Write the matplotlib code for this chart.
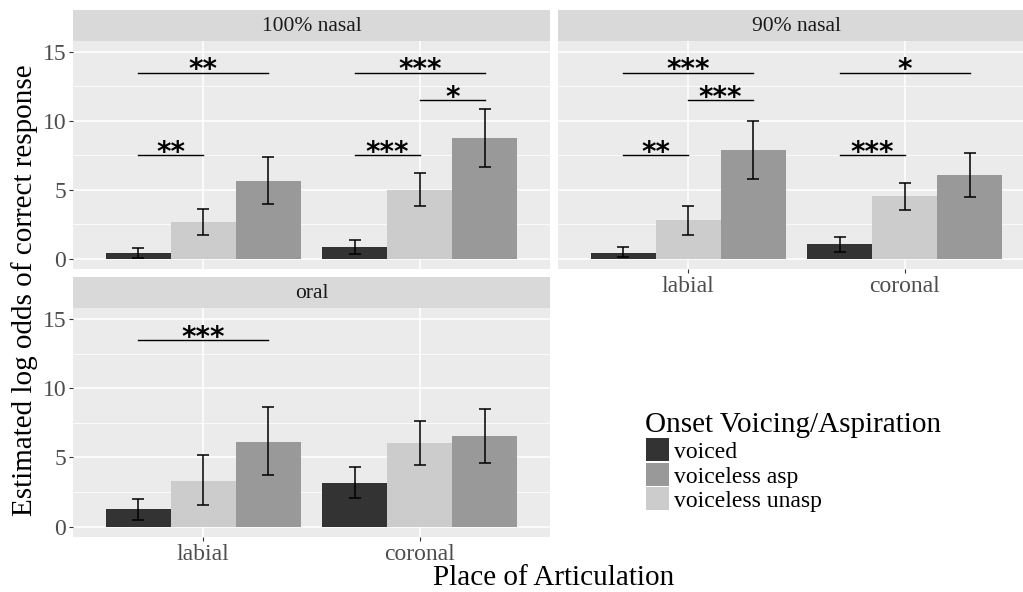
import numpy as np
import matplotlib
matplotlib.use('Agg')
import matplotlib.pyplot as plt
from matplotlib.patches import Rectangle

# categories
places = ['labial', 'coronal']
bar_groups = ['voiced', 'voiceless unasp', 'voiceless asp']      # order of bars inside a place
legend_groups = ['voiced', 'voiceless asp', 'voiceless unasp']   # order in the legend
fills = {'voiced': '#333333', 'voiceless asp': '#999999', 'voiceless unasp': '#CCCCCC'}

# estimates / error bar ends, rows follow bar_groups, columns follow places
nasal100_est = [[0.39, 0.82], [2.63, 5.00], [5.63, 8.77]]
nasal100_lo = [[0.02, 0.36], [1.69, 3.84], [3.96, 6.67]]
nasal100_hi = [[0.75, 1.35], [3.62, 6.18], [7.39, 10.89]]

nasal90_est = [[0.43, 1.04], [2.78, 4.52], [7.85, 6.09]]
nasal90_lo = [[0.10, 0.46], [1.71, 3.55], [5.77, 4.47]]
nasal90_hi = [[0.85, 1.57], [3.84, 5.51], [9.98, 7.66]]

oral_est = [[1.25, 3.18], [3.33, 6.05], [6.12, 6.56]]
oral_lo = [[0.51, 2.07], [1.54, 4.46], [3.71, 4.61]]
oral_hi = [[1.98, 4.27], [5.14, 7.64], [8.61, 8.49]]

# significance brackets: (place, bar a, bar b, height, label)
nasal100_sig = [(0, 0, 2, 13.5, '**'), (0, 0, 1, 7.5, '**'),
                (1, 0, 2, 13.5, '***'), (1, 1, 2, 11.5, '*'), (1, 0, 1, 7.5, '***')]
nasal90_sig = [(0, 0, 2, 13.5, '***'), (0, 1, 2, 11.5, '***'), (0, 0, 1, 7.5, '**'),
               (1, 0, 2, 13.5, '*'), (1, 0, 1, 7.5, '***')]
oral_sig = [(0, 0, 2, 13.5, '***')]

panels = [
    ('100% nasal', nasal100_est, nasal100_lo, nasal100_hi, nasal100_sig),
    ('90% nasal', nasal90_est, nasal90_lo, nasal90_hi, nasal90_sig),
    ('oral', oral_est, oral_lo, oral_hi, oral_sig),
]

plt.rcParams['font.family'] = ['Liberation Serif', 'DejaVu Serif']

W, H = 1023., 592.
fig = plt.figure(figsize=(W / 100, H / 100), dpi=100)


def box(x0, y0, x1, y1):
    return [x0 / W, 1 - y1 / H, (x1 - x0) / W, (y1 - y0) / H]


# pixel boxes of the panels (x0, y0, x1, y1); right column runs past the edge
panel_px = {'100% nasal': (73, 41, 550, 269),
            '90% nasal': (558, 41, 1035, 269),
            'oral': (73, 308, 550, 537)}
strip_h = 31
bw = 0.3

for name, est, lo, hi, sig in panels:
    x0, y0, x1, y1 = panel_px[name]
    ax = fig.add_axes(box(x0, y0, x1, y1))
    ax.set_facecolor('#EBEBEB')
    for s in ax.spines.values():
        s.set_visible(False)
    ax.set_xlim(0.4, 2.6)
    ax.set_ylim(-0.75, 15.79)
    ax.set_xticks([1, 2])
    ax.set_xticklabels(places)
    ax.set_yticks([0, 5, 10, 15])
    ax.set_yticks([2.5, 7.5, 12.5], minor=True)
    ax.grid(which='major', color='white', lw=1.1)
    ax.grid(which='minor', axis='y', color='white', lw=0.55)
    ax.set_axisbelow(True)
    ax.tick_params(which='major', length=3, width=0.8, color='#333333',
                   labelcolor='#4D4D4D', labelsize=17, pad=2)
    ax.tick_params(which='minor', length=0)

    est = np.array(est)
    lo = np.array(lo)
    hi = np.array(hi)
    xc = np.arange(1, len(places) + 1)
    for gi, g in enumerate(bar_groups):
        xs = xc + (gi - 1) * bw
        ax.bar(xs, est[gi], width=bw, color=fills[g], lw=0, zorder=2)
        ax.errorbar(xs, est[gi], yerr=[est[gi] - lo[gi], hi[gi] - est[gi]],
                    fmt='none', ecolor='black', elinewidth=1.1, capsize=4.5,
                    capthick=1.1, zorder=3)

    for p, a, b, yv, lab in sig:
        xa = p + 1 + (a - 1) * bw
        xb = p + 1 + (b - 1) * bw
        ax.plot([xa, xb], [yv, yv], color='black', lw=1.0, zorder=3)
        ax.text((xa + xb) / 2, yv - 0.42, lab, ha='center', va='baseline',
                fontsize=20, family='DejaVu Sans', fontweight='bold', zorder=4)

    if name == '100% nasal':
        ax.tick_params(axis='x', bottom=False, labelbottom=False)
    if name == '90% nasal':
        ax.tick_params(axis='y', left=False, labelleft=False)

    st = fig.add_axes(box(x0, y0 - strip_h, x1, y0))
    st.set_facecolor('#D9D9D9')
    st.set_xticks([])
    st.set_yticks([])
    for s in st.spines.values():
        s.set_visible(False)
    st.text(0.5, 0.48, name, ha='center', va='center', fontsize=15.5,
            color='#1A1A1A', transform=st.transAxes)

fig.text(554 / W, 1 - 578 / H, 'Place of Articulation', ha='center', va='center',
         fontsize=21)
fig.text(25 / W, 1 - 290 / H, 'Estimated log odds of correct response',
         rotation=90, ha='center', va='center', fontsize=21)

# legend, drawn by hand so the keys can sit tight like ggplot's
fig.text(645 / W, 1 - 432 / H, 'Onset Voicing/Aspiration', ha='left',
         va='baseline', fontsize=21)
key_top = 438
key_pitch = 24.5
for i, g in enumerate(legend_groups):
    ky = key_top + i * key_pitch
    fig.patches.append(Rectangle((646 / W, 1 - (ky + 23) / H), 23 / W, 23 / H,
                                 facecolor=fills[g], lw=0,
                                 transform=fig.transFigure, figure=fig))
    fig.text(674 / W, 1 - (ky + 12) / H, g, ha='left', va='center_baseline',
             fontsize=17)

fig.savefig('out.png', dpi=100)
